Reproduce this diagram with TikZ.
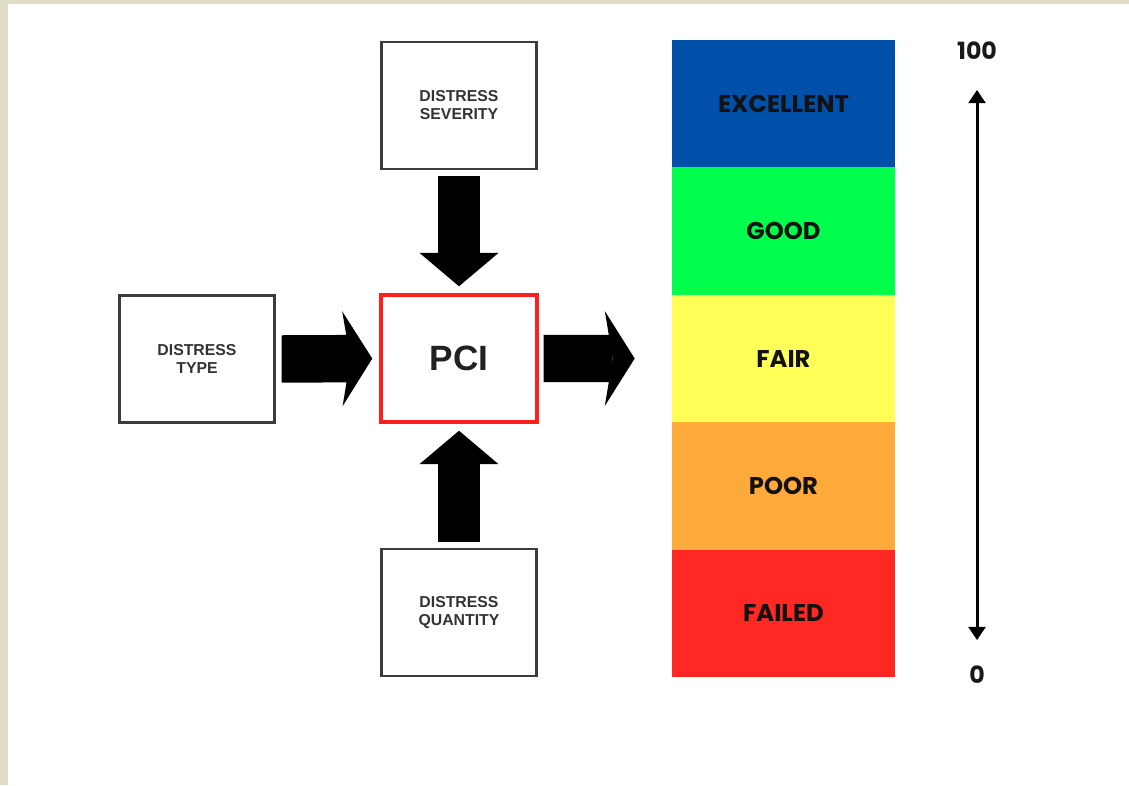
\documentclass[tikz,border=0pt]{standalone}
\usepackage{fontspec}
\setmainfont{Liberation Sans}
\newfontfamily\poppins{Poppins}
\usetikzlibrary{arrows.meta}
\definecolor{frame}{RGB}{224,222,201}
\definecolor{boxline}{RGB}{60,60,60}
\definecolor{pcired}{RGB}{255,30,30}
\definecolor{bandblue}{RGB}{0,80,170}
\definecolor{bandgreen}{RGB}{0,255,76}
\definecolor{bandyellow}{RGB}{255,255,88}
\definecolor{bandorange}{RGB}{255,170,58}
\definecolor{bandred}{RGB}{255,40,34}
\begin{document}
\begin{tikzpicture}[x=0.02cm,y=-0.02cm,
    inbox/.style={draw=boxline,line width=1.3pt,fill=white,minimum width=3.1cm,minimum height=2.54cm,
      align=center,text=black!80,font=\fontsize{9}{10.3}\selectfont\bfseries},
    pcibox/.style={draw=pcired,line width=2pt,fill=white,minimum width=3.12cm,minimum height=2.54cm,
      text=black!87,font=\fontsize{20}{23}\selectfont\bfseries},
    band/.style={minimum width=4.46cm,minimum height=2.548cm,inner sep=0pt,text=black!93,
      font=\poppins\fontsize{13.8}{16}\selectfont\bfseries},
    tick/.style={text=black!90,font=\poppins\fontsize{13.5}{16}\selectfont\bfseries},
    blockh/.style={line width=27pt,-{Stealth[width=54pt,length=17pt,inset=4.5pt,line width=0pt]}},
    blockv/.style={line width=23.5pt,-{Triangle[width=45pt,length=19pt,line width=0pt]}},
    scalearrow/.style={line width=1.7pt,{Triangle[width=10pt,length=7.4pt,line width=0pt]}-{Triangle[width=10pt,length=7.4pt,line width=0pt]}}]
  \fill[frame] (0,0) rectangle (1129,785);
  \fill[white] (8,4) rectangle (1129,785);
  \node[inbox] (severity) at (459,105.5) {DISTRESS\\SEVERITY};
  \node[inbox] (type) at (197,359) {DISTRESS\\TYPE};
  \node[inbox] (quantity) at (459,612.5) {DISTRESS\\QUANTITY};
  \node[pcibox] (pci) at (459,358.5) {PCI};
  \foreach \lab/\col [count=\i] in {EXCELLENT/bandblue,GOOD/bandgreen,FAIR/bandyellow,POOR/bandorange,FAILED/bandred}
    \node[band,fill=\col] (band\i) at (783.5,{103.7+127.4*(\i-1)}) {\lab};
  \draw[blockh,shorten <=0.12cm,shorten >=0.14cm] (type.east) -- (pci.west);
  \draw[blockh,shorten <=0.1cm,shorten >=0.74cm] (pci.east) -- (band3.west);
  \draw[blockv,shorten <=0.12cm,shorten >=0.14cm] (severity.south) -- (pci.north);
  \draw[blockv,shorten <=0.12cm,shorten >=0.14cm] (quantity.north) -- (pci.south);
  \node[tick] (high) at (977,51) {100};
  \node[tick] (low) at (977,675) {0};
  \draw[scalearrow,shorten <=0.48cm,shorten >=0.4cm] (high) -- (low);
\end{tikzpicture}
\end{document}
